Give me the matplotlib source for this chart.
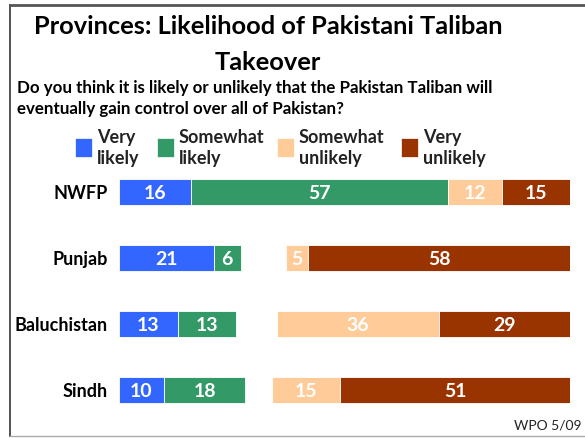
import numpy as np
import matplotlib.pyplot as plt
from matplotlib.patches import Rectangle
from matplotlib.lines import Line2D

# data
provinces = ['NWFP', 'Punjab', 'Baluchistan', 'Sindh']
very_likely = [16, 21, 13, 10]
somewhat_likely = [57, 6, 13, 18]
somewhat_unlikely = [12, 5, 36, 15]
very_unlikely = [15, 58, 29, 51]
series_names = ['Very\nlikely', 'Somewhat\nlikely', 'Somewhat\nunlikely', 'Very\nunlikely']
colors = ['#3366FF', '#339966', '#FFCC99', '#993300']

plt.rcParams['font.family'] = ['Lato', 'DejaVu Sans']

W, H = 585, 438
fig = plt.figure(figsize=(W / 100, H / 100), dpi=100)

def fx(px):
    return px / W

def fy(py):
    return 1 - py / H

# frame
fig.add_artist(Line2D([fx(10), fx(10)], [fy(5), fy(436)], color='#333333', lw=1.2))
fig.add_artist(Line2D([fx(10), fx(585)], [fy(5), fy(5)], color='#555555', lw=2))
fig.add_artist(Line2D([fx(10), fx(585)], [fy(436), fy(436)], color='#aaaaaa', lw=1))

# titles
fig.text(fx(268), fy(26), 'Provinces: Likelihood of Pakistani Taliban', ha='center', va='center',
         fontsize=18.3, fontweight='bold')
fig.text(fx(268), fy(62), 'Takeover', ha='center', va='center', fontsize=18.3, fontweight='bold')
fig.text(fx(17), fy(88), 'Do you think it is likely or unlikely that the Pakistan Taliban will',
         ha='left', va='center', fontsize=12.2, fontweight='bold')
fig.text(fx(17), fy(109), 'eventually gain control over all of Pakistan?',
         ha='left', va='center', fontsize=12.2, fontweight='bold')

# legend
leg_x = [75, 157, 277, 401]
for lx, name, c in zip(leg_x, series_names, colors):
    fig.add_artist(Rectangle((fx(lx), fy(157)), fx(17), 19 / H, color=c, ec='white', lw=0.5))
    fig.text(fx(lx + 22), fy(148), name, ha='left', va='center', fontsize=13,
             fontweight='bold', color='#222222', linespacing=1.25)

# bars
ax = fig.add_axes([fx(119), fy(423), 451 / W, 264 / H])
y = np.arange(len(provinces))
h = 26 / 66

vl = np.array(very_likely)
sl = np.array(somewhat_likely)
su = np.array(somewhat_unlikely)
vu = np.array(very_unlikely)

segments = [
    (np.zeros(len(y)), vl),
    (vl, sl),
    (100 - vu - su, su),
    (100 - vu, vu),
]
for (left, width), c in zip(segments, colors):
    ax.barh(y, width, left=left, height=h, color=c, edgecolor='white', linewidth=0.6)
    for yi, l, w in zip(y, left, width):
        ax.text(l + w / 2, yi + 0.02, str(w), ha='center', va='center', color='white',
                fontsize=14, fontweight='bold')

ax.set_xlim(0, 100)
ax.set_ylim(len(y) - 0.5, -0.5)
ax.set_yticks(y)
ax.set_yticklabels(provinces, fontsize=13, fontweight='bold')
ax.tick_params(axis='y', length=0, pad=8)
ax.set_xticks([])
for s in ax.spines.values():
    s.set_visible(False)

fig.text(fx(582), fy(425), 'WPO 5/09', ha='right', va='center', fontsize=10, color='#222222')

plt.savefig('out.png', dpi=100)
